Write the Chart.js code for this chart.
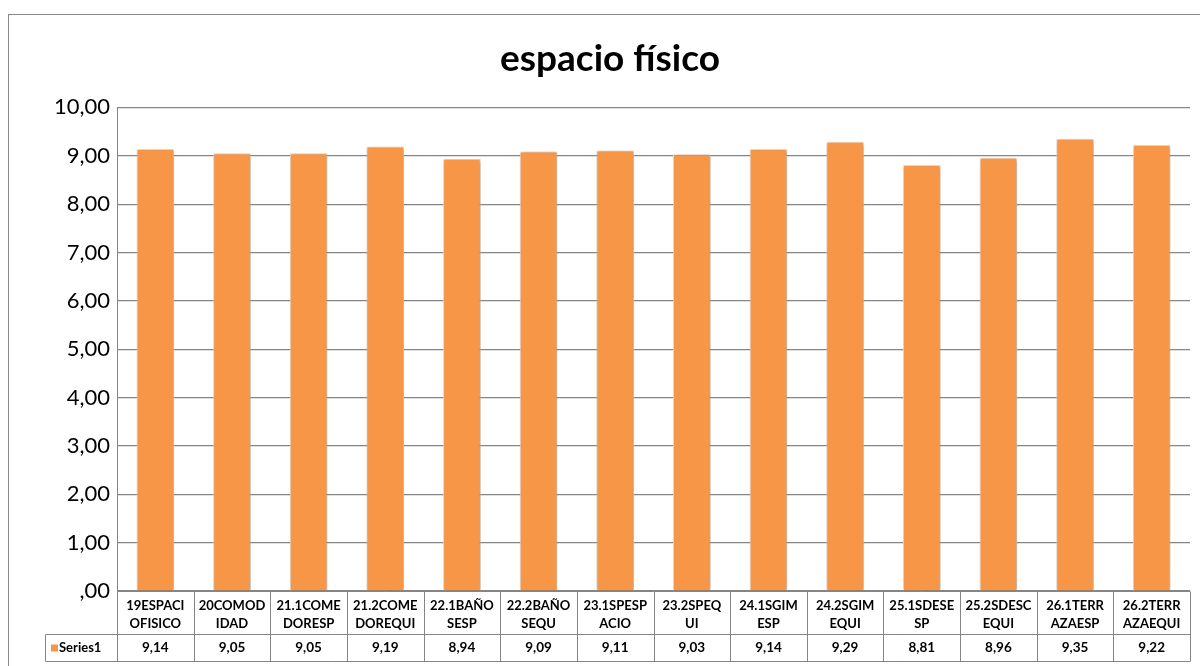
<!DOCTYPE html>
<html>
<head>
<meta charset="utf-8">
<script src="https://cdn.jsdelivr.net/npm/chart.js@4"></script>
<style>
  html, body { margin: 0; padding: 0; background: #fff; }
  #wrap { width: 1200px; height: 666px; position: relative; }
</style>
</head>
<body>
<div id="wrap"><canvas id="grafico" width="1200" height="666"></canvas></div>
<script>
const categorias = [
  ['19ESPACI', 'OFISICO'], ['20COMOD', 'IDAD'], ['21.1COME', 'DORESP'], ['21.2COME', 'DOREQUI'],
  ['22.1BAÑO', 'SESP'], ['22.2BAÑO', 'SEQU'], ['23.1SPESP', 'ACIO'], ['23.2SPEQ', 'UI'],
  ['24.1SGIM', 'ESP'], ['24.2SGIM', 'EQUI'], ['25.1SDESE', 'SP'], ['25.2SDESC', 'EQUI'],
  ['26.1TERR', 'AZAESP'], ['26.2TERR', 'AZAEQUI']
];
const serie1 = [9.14, 9.05, 9.05, 9.19, 8.94, 9.09, 9.11, 9.03, 9.14, 9.29, 8.81, 8.96, 9.35, 9.22];
const nomeSerie = 'Series1';
const titulo = 'espacio físico';

const fonte = 'Lato, Calibri, sans-serif';
const cinza = '#858585';
const laranja = '#F79646';

function virgula(v) {
  const s = v.toFixed(2).replace('.', ',');
  return s.startsWith('0,') ? s.slice(1) : s;
}

// moldura externa + tabela de dados
const tabela = {
  id: 'tabela',
  beforeDraw(chart) {
    const ctx = chart.ctx;
    ctx.save();
    ctx.strokeStyle = '#8a8a8a';
    ctx.lineWidth = 1;
    ctx.strokeRect(8.5, 14.5, 1200, 700);
    ctx.restore();
  },
  beforeDatasetsDraw(chart) {
    const ctx = chart.ctx;
    ctx.save();
    ctx.shadowColor = 'rgba(0,0,0,0.35)';
    ctx.shadowBlur = 4;
    ctx.shadowOffsetX = 1;
    ctx.shadowOffsetY = 1;
  },
  afterDatasetsDraw(chart) {
    chart.ctx.restore();
  },
  afterDraw(chart) {
    const ctx = chart.ctx;
    const x = chart.scales.x;
    const area = chart.chartArea;
    const topo = Math.round(area.bottom) + 0.5;
    const meio = topo + 43;
    const fundo = topo + 70;
    const esq = 45.5;
    const passo = (area.right - area.left) / categorias.length;
    ctx.save();
    ctx.strokeStyle = cinza;
    ctx.lineWidth = 1;
    ctx.beginPath();
    ctx.moveTo(area.left, topo); ctx.lineTo(area.right, topo);
    ctx.moveTo(esq, meio); ctx.lineTo(area.right, meio);
    ctx.moveTo(esq, fundo); ctx.lineTo(area.right, fundo);
    ctx.moveTo(esq, meio); ctx.lineTo(esq, fundo);
    for (let i = 0; i <= categorias.length; i++) {
      const px = Math.round(area.left + i * passo) + 0.5;
      ctx.moveTo(px, topo); ctx.lineTo(px, fundo);
    }
    ctx.stroke();

    ctx.fillStyle = '#000';
    ctx.textAlign = 'center';
    ctx.textBaseline = 'middle';
    ctx.font = 'bold 13px ' + fonte;
    categorias.forEach((c, i) => {
      const px = x.getPixelForValue(i);
      ctx.fillText(c[0], px, topo + 14);
      ctx.fillText(c[1], px, topo + 32);
    });
    ctx.font = 'bold 13.5px ' + fonte;
    serie1.forEach((v, i) => {
      ctx.fillText(virgula(v), x.getPixelForValue(i), (meio + fundo) / 2);
    });
    // legenda da série
    ctx.fillStyle = laranja;
    ctx.fillRect(51, meio + 10, 7, 7);
    ctx.fillStyle = '#000';
    ctx.textAlign = 'left';
    ctx.font = 'bold 13px ' + fonte;
    ctx.fillText(nomeSerie, 59, (meio + fundo) / 2);
    ctx.restore();
  }
};

new Chart(document.getElementById('grafico'), {
  type: 'bar',
  data: {
    labels: categorias,
    datasets: [{
      label: nomeSerie,
      data: serie1,
      backgroundColor: laranja,
      borderColor: '#fde3cf',
      borderWidth: 1,
      barPercentage: 0.49,
      categoryPercentage: 1
    }]
  },
  options: {
    responsive: false,
    animation: false,
    layout: { padding: { left: 30, right: 10, top: 0, bottom: 75 } },
    plugins: {
      legend: { display: false },
      tooltip: { enabled: false },
      title: {
        display: true,
        text: titulo,
        color: '#000',
        font: { family: fonte, size: 37, weight: 'bold' },
        padding: { top: 37, bottom: 26 }
      }
    },
    scales: {
      x: {
        ticks: { display: false },
        grid: { display: false, drawTicks: false },
        border: { display: false }
      },
      y: {
        min: 0,
        max: 10,
        ticks: {
          stepSize: 1,
          color: '#000',
          padding: 7,
          font: { family: fonte, size: 22 },
          callback: v => virgula(v)
        },
        grid: { color: cinza, lineWidth: 1.2, drawTicks: false },
        border: { display: true, color: cinza },
        afterFit(s) { s.width = 87; }
      }
    }
  },
  plugins: [tabela]
});
</script>
</body>
</html>
